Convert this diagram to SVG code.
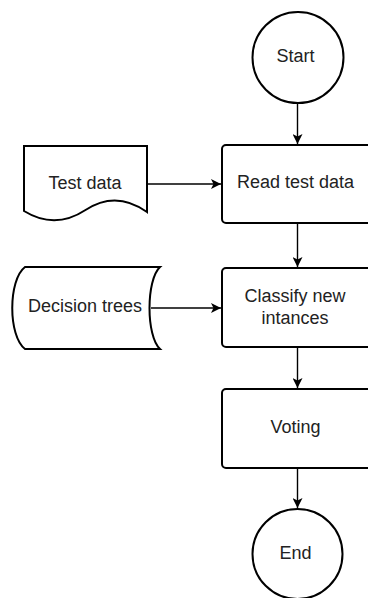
<svg xmlns="http://www.w3.org/2000/svg" width="368" height="598" viewBox="0 0 368 598">
  <defs>
    <style>
      .shape { fill: #ffffff; stroke: #000000; stroke-width: 2; }
      .edge { fill: none; stroke: #000000; stroke-width: 1.4; }
      .label { font-family: "Liberation Sans", Arial, Helvetica, sans-serif; font-size: 18px; fill: #222222; text-anchor: middle; }
    </style>
    <marker id="arrow" viewBox="0 0 10 10" refX="10" refY="5" markerWidth="10" markerHeight="10" markerUnits="userSpaceOnUse" orient="auto">
      <path d="M0,0 L10,5 L0,10 L2.5,5 Z" fill="#000000"/>
    </marker>
  </defs>
  <rect width="368" height="598" fill="#ffffff"/>

  <g id="connectors">
    <line class="edge" x1="297.5" y1="103.5" x2="297.5" y2="144" marker-end="url(#arrow)"/>
    <line class="edge" x1="147" y1="184" x2="221" y2="184" marker-end="url(#arrow)"/>
    <line class="edge" x1="297.5" y1="223" x2="297.5" y2="267" marker-end="url(#arrow)"/>
    <line class="edge" x1="151" y1="308" x2="221" y2="308" marker-end="url(#arrow)"/>
    <line class="edge" x1="297.5" y1="347" x2="297.5" y2="388" marker-end="url(#arrow)"/>
    <line class="edge" x1="297.5" y1="468" x2="297.5" y2="508" marker-end="url(#arrow)"/>
  </g>

  <g id="start">
    <circle class="shape" cx="298" cy="57.5" r="45.5"/>
    <text class="label" x="295.5" y="62">Start</text>
  </g>

  <g id="test-data">
    <path class="shape" d="M24,146 H147 V212 Q116,190 85.5,210 Q55,230 24,211 Z"/>
    <text class="label" x="85" y="188.5">Test data</text>
  </g>

  <g id="read-test-data">
    <rect class="shape" x="222" y="145" width="152" height="78" rx="4" ry="4"/>
    <text class="label" x="295.5" y="188">Read test data</text>
  </g>

  <g id="decision-trees">
    <path class="shape" d="M25,267 H160 C146,280 146,336 160,349 H25 C8,336 8,280 25,267 Z"/>
    <text class="label" x="85" y="312">Decision trees</text>
  </g>

  <g id="classify">
    <rect class="shape" x="222" y="268" width="152" height="79" rx="4" ry="4"/>
    <text class="label" x="295" y="302">Classify new</text>
    <text class="label" x="295" y="323.5">intances</text>
  </g>

  <g id="voting">
    <rect class="shape" x="222" y="389" width="152" height="79" rx="4" ry="4"/>
    <text class="label" x="295.5" y="433">Voting</text>
  </g>

  <g id="end">
    <circle class="shape" cx="297.5" cy="554" r="45"/>
    <text class="label" x="295.5" y="558.5">End</text>
  </g>
</svg>
